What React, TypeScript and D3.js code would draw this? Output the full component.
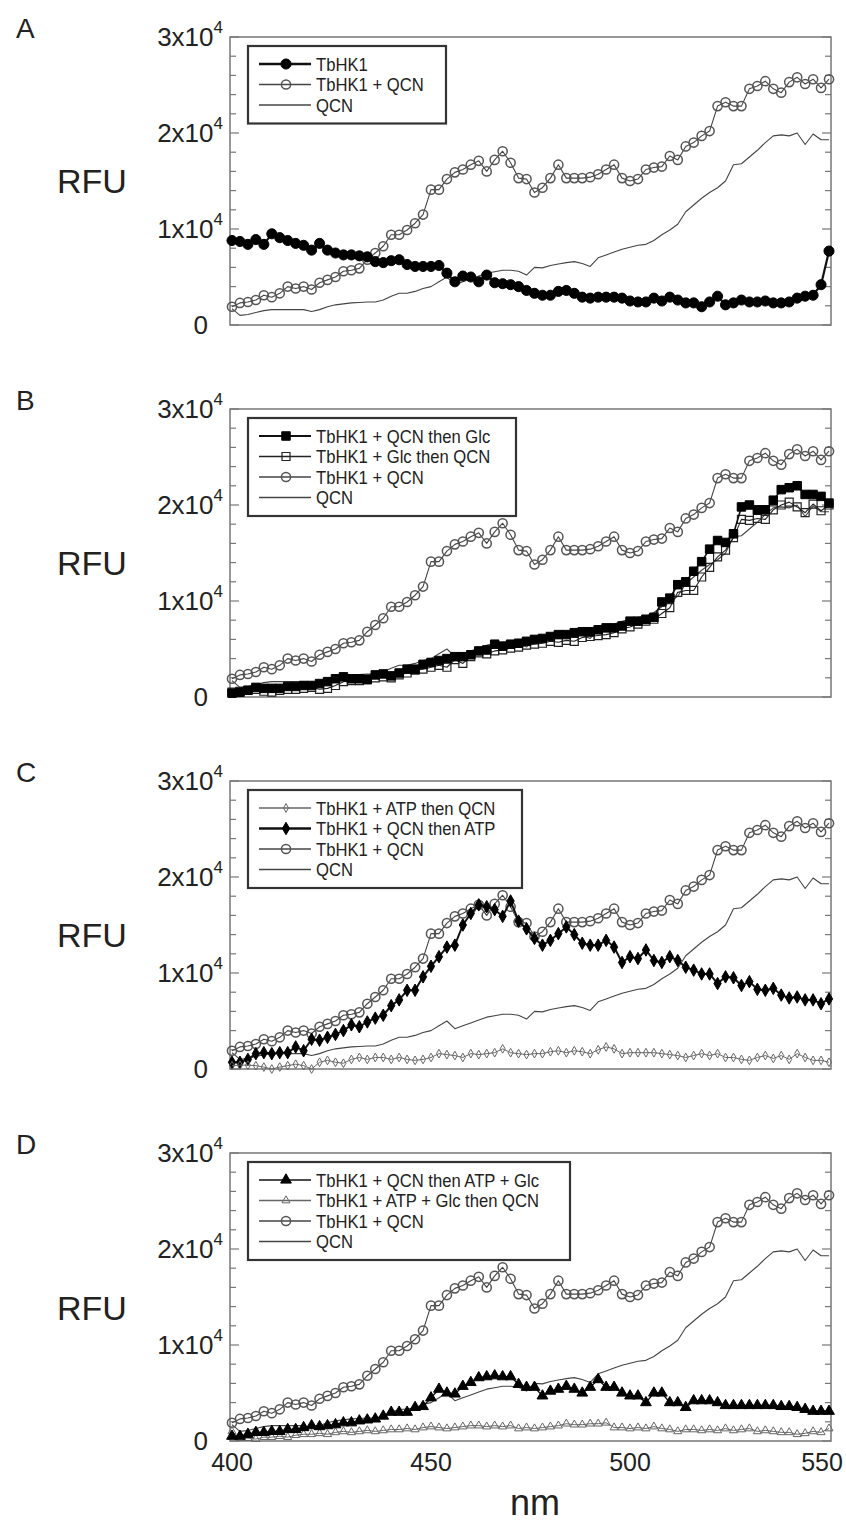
import { useEffect, useRef } from "react";
import * as d3 from "d3";

// wavelength grid (nm)
const wavelength = [
  400, 402, 404, 406, 408, 410, 412, 414, 416, 418, 420, 422, 424, 426, 428, 430, 432, 434, 436, 438,
  440, 442, 444, 446, 448, 450, 452, 454, 456, 458, 460, 462, 464, 466, 468, 470, 472, 474, 476, 478,
  480, 482, 484, 486, 488, 490, 492, 494, 496, 498, 500, 502, 504, 506, 508, 510, 512, 514, 516, 518,
  520, 522, 524, 526, 528, 530, 532, 534, 536, 538, 540, 542, 544, 546, 548, 550,
];

// RFU values in thousands
const qcn = [
  1.7, 1.0, 1.1, 1.3, 1.5, 1.6, 1.6, 1.6, 1.6, 1.6, 1.4, 1.6, 1.9, 2.1, 2.2, 2.3, 2.35, 2.4, 2.4, 2.6,
  3.0, 3.3, 3.3, 3.5, 3.8, 4.0, 4.5, 5.0, 4.2, 4.5, 4.8, 5.1, 5.4, 5.55, 5.7, 5.7, 5.6, 5.2, 6.0, 5.95,
  6.2, 6.35, 6.5, 6.6, 6.4, 6.1, 7.0, 7.3, 7.6, 7.9, 8.1, 8.3, 8.4, 8.8, 9.4, 9.9, 10.5, 11.8, 12.5, 13.2,
  13.8, 14.3, 15.0, 16.7, 16.8, 17.5, 18.2, 19.0, 19.7, 19.8, 19.7, 20.0, 18.8, 19.9, 19.3, 19.3,
];
const tbhk1Qcn = [
  1.9, 2.3, 2.4, 2.6, 3.1, 2.9, 3.3, 4.0, 3.8, 4.0, 3.7, 4.4, 4.7, 5.0, 5.6, 5.7, 5.9, 6.8, 7.5, 8.2,
  9.4, 9.4, 9.9, 10.6, 11.5, 14.1, 14.1, 15.2, 15.9, 16.2, 16.7, 17.1, 16.0, 17.2, 18.1, 16.9, 15.3, 15.2, 13.8, 14.3,
  15.3, 16.7, 15.3, 15.3, 15.3, 15.4, 15.7, 16.2, 16.7, 15.3, 15.0, 15.2, 16.2, 16.4, 16.5, 17.6, 17.2, 18.6, 19.0, 19.7,
  20.2, 22.8, 23.2, 22.8, 22.8, 24.6, 24.9, 25.4, 24.6, 24.2, 25.3, 25.8, 25.1, 25.6, 24.7, 25.6,
];
const tbhk1 = [
  8.8, 8.7, 8.4, 8.9, 8.4, 9.5, 9.1, 8.8, 8.5, 8.3, 7.8, 8.5, 7.8, 7.5, 7.3, 7.3, 7.2, 7.1, 6.6, 6.5,
  6.7, 6.8, 6.3, 6.1, 6.1, 6.1, 6.2, 5.4, 4.5, 5.1, 5.0, 4.5, 5.2, 4.4, 4.3, 4.2, 4.0, 3.6, 3.3, 3.1,
  3.1, 3.5, 3.6, 3.3, 2.9, 2.8, 2.9, 2.9, 2.9, 2.8, 2.5, 2.4, 2.4, 2.8, 2.5, 2.9, 2.6, 2.3, 2.3, 1.9,
  2.4, 3.0, 2.1, 2.3, 2.6, 2.4, 2.4, 2.5, 2.3, 2.3, 2.4, 2.8, 3.0, 3.1, 4.2, 7.7,
];
const qcnThenGlc = [
  0.4, 0.5, 0.7, 1.0, 0.9, 0.9, 0.9, 1.1, 1.1, 1.2, 1.2, 1.4, 1.6, 1.9, 2.1, 1.9, 1.9, 1.8, 2.3, 2.4,
  2.2, 2.5, 2.9, 2.9, 3.4, 3.6, 3.8, 4.0, 4.2, 4.2, 4.4, 4.8, 4.9, 5.5, 5.3, 5.5, 5.6, 5.8, 6.0, 6.1,
  6.3, 6.5, 6.5, 6.7, 6.8, 6.8, 7.0, 7.2, 7.2, 7.4, 7.9, 7.9, 8.1, 8.3, 9.9, 10.3, 11.7, 12.0, 13.1, 14.1,
  15.4, 16.3, 16.1, 17.0, 19.8, 20.0, 19.5, 19.5, 20.5, 21.6, 21.8, 22.0, 21.1, 21.1, 20.9, 20.2,
];
const glcThenQcn = [
  0.5, 0.6, 0.7, 0.8, 0.6, 0.5, 0.7, 0.8, 0.8, 0.9, 1.0, 0.8, 0.9, 1.2, 1.6, 1.7, 1.7, 1.9, 2.0, 2.1,
  2.0, 2.3, 2.5, 2.8, 2.9, 3.1, 3.3, 3.1, 3.9, 3.5, 4.2, 4.6, 4.5, 4.8, 4.9, 5.1, 5.2, 5.4, 5.5, 5.6,
  5.8, 5.7, 5.9, 5.8, 6.2, 6.3, 6.4, 6.5, 6.7, 7.1, 7.3, 7.6, 7.9, 8.1, 8.7, 9.3, 10.9, 11.1, 11.1, 12.5,
  13.5, 14.6, 15.3, 16.6, 18.5, 18.4, 18.6, 18.5, 19.5, 20.0, 20.3, 19.8, 19.2, 20.1, 19.4, 20.0,
];
const atpThenQcn = [
  0.35, 0.4, 0.4, 0.35, 0.2, 0.0, 0.2, 0.35, 0.5, 0.35, 0.0, 0.7, 0.9, 0.7, 0.6, 1.0, 1.2, 1.0, 1.2, 1.2,
  1.0, 1.2, 1.0, 0.9, 1.0, 1.2, 1.6, 1.5, 1.4, 1.2, 1.6, 1.5, 1.6, 1.7, 2.1, 1.7, 1.6, 1.5, 1.6, 1.6,
  1.8, 1.9, 1.7, 1.9, 1.8, 1.6, 2.0, 2.3, 2.1, 1.6, 1.7, 1.7, 1.7, 1.7, 1.6, 1.5, 1.4, 1.2, 1.4, 1.6,
  1.4, 1.6, 1.2, 1.2, 1.0, 0.9, 1.2, 1.4, 1.1, 1.4, 1.0, 1.6, 1.2, 0.9, 0.9, 0.7,
];
const qcnThenAtp = [
  0.7, 0.7, 1.0, 1.6, 1.7, 1.6, 1.7, 1.7, 2.3, 1.9, 3.1, 3.0, 3.3, 3.6, 4.0, 4.6, 4.4, 4.9, 5.3, 5.6,
  6.6, 7.2, 8.2, 8.2, 9.6, 10.7, 11.7, 12.7, 12.9, 15.0, 16.2, 17.1, 16.9, 16.6, 15.9, 17.5, 15.4, 14.6, 13.6, 12.9,
  13.4, 14.1, 14.8, 14.0, 13.1, 12.9, 12.9, 13.4, 12.7, 11.1, 11.7, 11.5, 12.4, 11.3, 11.1, 11.7, 11.3, 10.6, 10.3, 9.9,
  9.9, 8.9, 9.6, 9.5, 8.7, 9.1, 8.3, 8.2, 8.4, 7.7, 7.4, 7.5, 7.2, 7.2, 6.8, 7.3,
];
const qcnThenAtpGlc = [
  0.5, 0.5, 0.7, 0.9, 0.9, 1.0, 1.0, 1.2, 1.2, 1.4, 1.6, 1.5, 1.6, 1.7, 1.9, 1.9, 2.1, 2.2, 2.3, 2.6,
  3.0, 3.0, 3.0, 3.5, 3.6, 4.5, 5.4, 5.0, 4.9, 5.7, 6.1, 6.6, 6.7, 6.8, 6.7, 6.7, 5.9, 5.6, 5.6, 4.7,
  5.2, 5.4, 5.7, 5.4, 5.0, 5.6, 6.4, 5.6, 5.6, 5.0, 4.7, 4.7, 4.0, 5.0, 5.0, 4.0, 4.0, 3.5, 4.2, 4.2,
  4.2, 4.0, 3.7, 3.7, 3.7, 3.7, 3.7, 3.7, 3.7, 3.6, 3.6, 3.5, 3.3, 3.1, 3.1, 3.1,
];
const atpGlcThenQcn = [
  1.0, 0.3, 0.3, 0.2, 0.4, 0.4, 0.5, 0.4, 0.6, 0.7, 0.7, 0.8, 0.7, 0.9, 1.0, 0.9, 1.0, 1.1, 1.0, 1.1,
  1.2, 1.2, 1.3, 1.2, 1.4, 1.5, 1.4, 1.3, 1.4, 1.5, 1.6, 1.6, 1.5, 1.6, 1.5, 1.6, 1.3, 1.4, 1.3, 1.4,
  1.5, 1.6, 1.8, 1.7, 1.7, 1.8, 1.8, 1.9, 1.4, 1.4, 1.3, 1.4, 1.3, 1.5, 1.3, 1.2, 1.0, 1.2, 1.2, 1.1,
  1.2, 1.1, 1.3, 1.1, 1.2, 1.3, 1.0, 1.1, 1.0, 0.9, 0.9, 0.7, 0.8, 1.0, 0.9, 1.3,
];

const yMajorTicks = [0, 10000, 20000, 30000];
const yMajorLabels = ["0", "1", "2", "3"];
const xTicks = [400, 450, 500, 550];

type StyleKey =
  | "filledCircle" | "openCircle" | "line" | "filledSquare" | "openSquare"
  | "smallDiamond" | "filledDiamond" | "filledTriangle" | "openTriangle";

const styles: Record<StyleKey, any> = {
  filledCircle: { symbol: d3.symbolCircle, size: 80, fill: "#000", stroke: "#000", sw: 1, line: "#111", lw: 2.2 },
  openCircle: { symbol: d3.symbolCircle, size: 66, fill: "none", stroke: "#555", sw: 1.5, line: "#444", lw: 1.1 },
  line: { symbol: null, line: "#444", lw: 1.1 },
  filledSquare: { symbol: d3.symbolSquare, size: 72, fill: "#000", stroke: "#000", sw: 1, line: "#111", lw: 1.6 },
  openSquare: { symbol: d3.symbolSquare, size: 64, fill: "none", stroke: "#222", sw: 1.2, line: "#222", lw: 1.1 },
  smallDiamond: { symbol: d3.symbolDiamond, size: 22, fill: "none", stroke: "#666", sw: 1, line: "#666", lw: 1 },
  filledDiamond: { symbol: d3.symbolDiamond, size: 45, fill: "#000", stroke: "#000", sw: 1, line: "#111", lw: 2 },
  filledTriangle: { symbol: d3.symbolTriangle, size: 50, fill: "#000", stroke: "#000", sw: 1, line: "#111", lw: 1.4 },
  openTriangle: { symbol: d3.symbolTriangle, size: 28, fill: "none", stroke: "#666", sw: 1, line: "#666", lw: 1 },
};

const panels = [
  {
    letter: "A", top: 37, rfu: 193, legendWidth: 198,
    series: [
      { label: "TbHK1", values: tbhk1, style: "filledCircle" },
      { label: "TbHK1 + QCN", values: tbhk1Qcn, style: "openCircle" },
      { label: "QCN", values: qcn, style: "line" },
    ],
  },
  {
    letter: "B", top: 409, rfu: 575, legendWidth: 268,
    series: [
      { label: "TbHK1 + QCN then Glc", values: qcnThenGlc, style: "filledSquare" },
      { label: "TbHK1 + Glc then QCN", values: glcThenQcn, style: "openSquare" },
      { label: "TbHK1 + QCN", values: tbhk1Qcn, style: "openCircle" },
      { label: "QCN", values: qcn, style: "line" },
    ],
  },
  {
    letter: "C", top: 781, rfu: 947, legendWidth: 274,
    series: [
      { label: "TbHK1 + ATP then QCN", values: atpThenQcn, style: "smallDiamond" },
      { label: "TbHK1 + QCN then ATP", values: qcnThenAtp, style: "filledDiamond" },
      { label: "TbHK1 + QCN", values: tbhk1Qcn, style: "openCircle" },
      { label: "QCN", values: qcn, style: "line" },
    ],
  },
  {
    letter: "D", top: 1153, rfu: 1320, legendWidth: 322,
    series: [
      { label: "TbHK1 + QCN then ATP + Glc", values: qcnThenAtpGlc, style: "filledTriangle" },
      { label: "TbHK1 + ATP + Glc  then QCN", values: atpGlcThenQcn, style: "openTriangle" },
      { label: "TbHK1 + QCN", values: tbhk1Qcn, style: "openCircle" },
      { label: "QCN", values: qcn, style: "line" },
    ],
  },
];

const FONT = "'Liberation Sans', Arial, sans-serif";

export default function App() {
  const ref = useRef<SVGSVGElement>(null);
  const left = 230;
  const right = 831;
  const plotH = 288;

  useEffect(() => {
    const svg = d3.select(ref.current);
    svg.selectAll("*").remove();

    const x = d3.scaleLinear().domain([399.5, 550.5]).range([left, right]);

    panels.forEach((p, pi) => {
      const y = d3.scaleLinear().domain([0, 30000]).range([p.top + plotH, p.top]);
      const g = svg.append("g");

      // frame
      g.append("rect")
        .attr("x", left).attr("y", p.top)
        .attr("width", right - left).attr("height", plotH)
        .attr("fill", "none").attr("stroke", "#777").attr("stroke-width", 1.5);

      // inward ticks on both sides
      d3.range(0, 30001, 2000).forEach((v) => {
        const major = v % 10000 === 0;
        const len = major ? 9 : 6;
        g.append("line").attr("x1", left).attr("x2", left + len)
          .attr("y1", y(v)).attr("y2", y(v)).attr("stroke", "#777").attr("stroke-width", 1.2);
        g.append("line").attr("x1", right).attr("x2", right - len)
          .attr("y1", y(v)).attr("y2", y(v)).attr("stroke", "#777").attr("stroke-width", 1.2);
      });

      // y tick labels
      yMajorTicks.forEach((v, i) => {
        const t = g.append("text")
          .attr("x", v === 0 ? 208 : 223).attr("y", y(v) + 9)
          .attr("text-anchor", "end")
          .attr("font-family", FONT).attr("font-size", 26).attr("fill", "#222");
        if (v === 0) {
          t.text("0");
        } else {
          t.append("tspan").text(`${yMajorLabels[i]}x10`);
          t.append("tspan").attr("dy", -13).attr("font-size", 17).text("4");
        }
      });

      // RFU + panel letter
      g.append("text").attr("x", 57).attr("y", p.rfu)
        .attr("font-family", FONT).attr("font-size", 34).attr("fill", "#222").text("RFU");
      g.append("text").attr("x", 16).attr("y", p.top + 1)
        .attr("font-family", FONT).attr("font-size", 28).attr("fill", "#222").text(p.letter);

      // series, drawn back to front
      [...p.series].reverse().forEach((s) => {
        const st = styles[s.style as StyleKey];
        const pts = s.values.map((v, i) => [x(wavelength[i]), y(v * 1000)] as [number, number]);
        g.append("path")
          .attr("d", d3.line()(pts))
          .attr("fill", "none").attr("stroke", st.line).attr("stroke-width", st.lw)
          .attr("stroke-linejoin", "round");
        if (st.symbol) {
          const sym = d3.symbol().type(st.symbol).size(st.size)();
          g.selectAll(null).data(pts).enter().append("path")
            .attr("d", sym)
            .attr("transform", (d) => `translate(${d[0]},${d[1]})`)
            .attr("fill", st.fill).attr("stroke", st.stroke).attr("stroke-width", st.sw);
        }
      });

      // legend
      const lx = 248;
      const ly = p.top + 9;
      const rowH = 20.5;
      const lh = p.series.length * rowH + 16;
      g.append("rect")
        .attr("x", lx).attr("y", ly).attr("width", p.legendWidth).attr("height", lh)
        .attr("fill", "#fff").attr("stroke", "#333").attr("stroke-width", 2.2);
      p.series.forEach((s, i) => {
        const st = styles[s.style as StyleKey];
        const ry = ly + 18 + i * rowH;
        g.append("line").attr("x1", lx + 11).attr("x2", lx + 63)
          .attr("y1", ry).attr("y2", ry)
          .attr("stroke", st.line).attr("stroke-width", st.lw + 0.3);
        if (st.symbol) {
          g.append("path")
            .attr("d", d3.symbol().type(st.symbol).size(st.size)())
            .attr("transform", `translate(${lx + 38},${ry})`)
            .attr("fill", st.fill).attr("stroke", st.stroke).attr("stroke-width", st.sw);
        }
        // condensed legend text
        g.append("text")
          .attr("transform", `translate(${lx + 68},${ry + 6.5}) scale(0.9,1)`)
          .attr("font-family", FONT).attr("font-size", 18.5).attr("fill", "#222")
          .text(s.label);
      });

      // x axis labels only on the last panel
      if (pi === panels.length - 1) {
        xTicks.forEach((v) => {
          g.append("text").attr("x", Math.min(x(v), 822)).attr("y", p.top + plotH + 30)
            .attr("text-anchor", "middle")
            .attr("font-family", FONT).attr("font-size", 25).attr("fill", "#222")
            .text(String(v));
        });
        g.append("text").attr("x", 535).attr("y", p.top + plotH + 74)
          .attr("text-anchor", "middle")
          .attr("font-family", FONT).attr("font-size", 36).attr("fill", "#222")
          .text("nm");
      }
    });
  }, []);

  return (
    <svg
      ref={ref}
      width={846}
      height={1524}
      style={{ position: "absolute", left: 0, top: 0, background: "#fff" }}
    />
  );
}
